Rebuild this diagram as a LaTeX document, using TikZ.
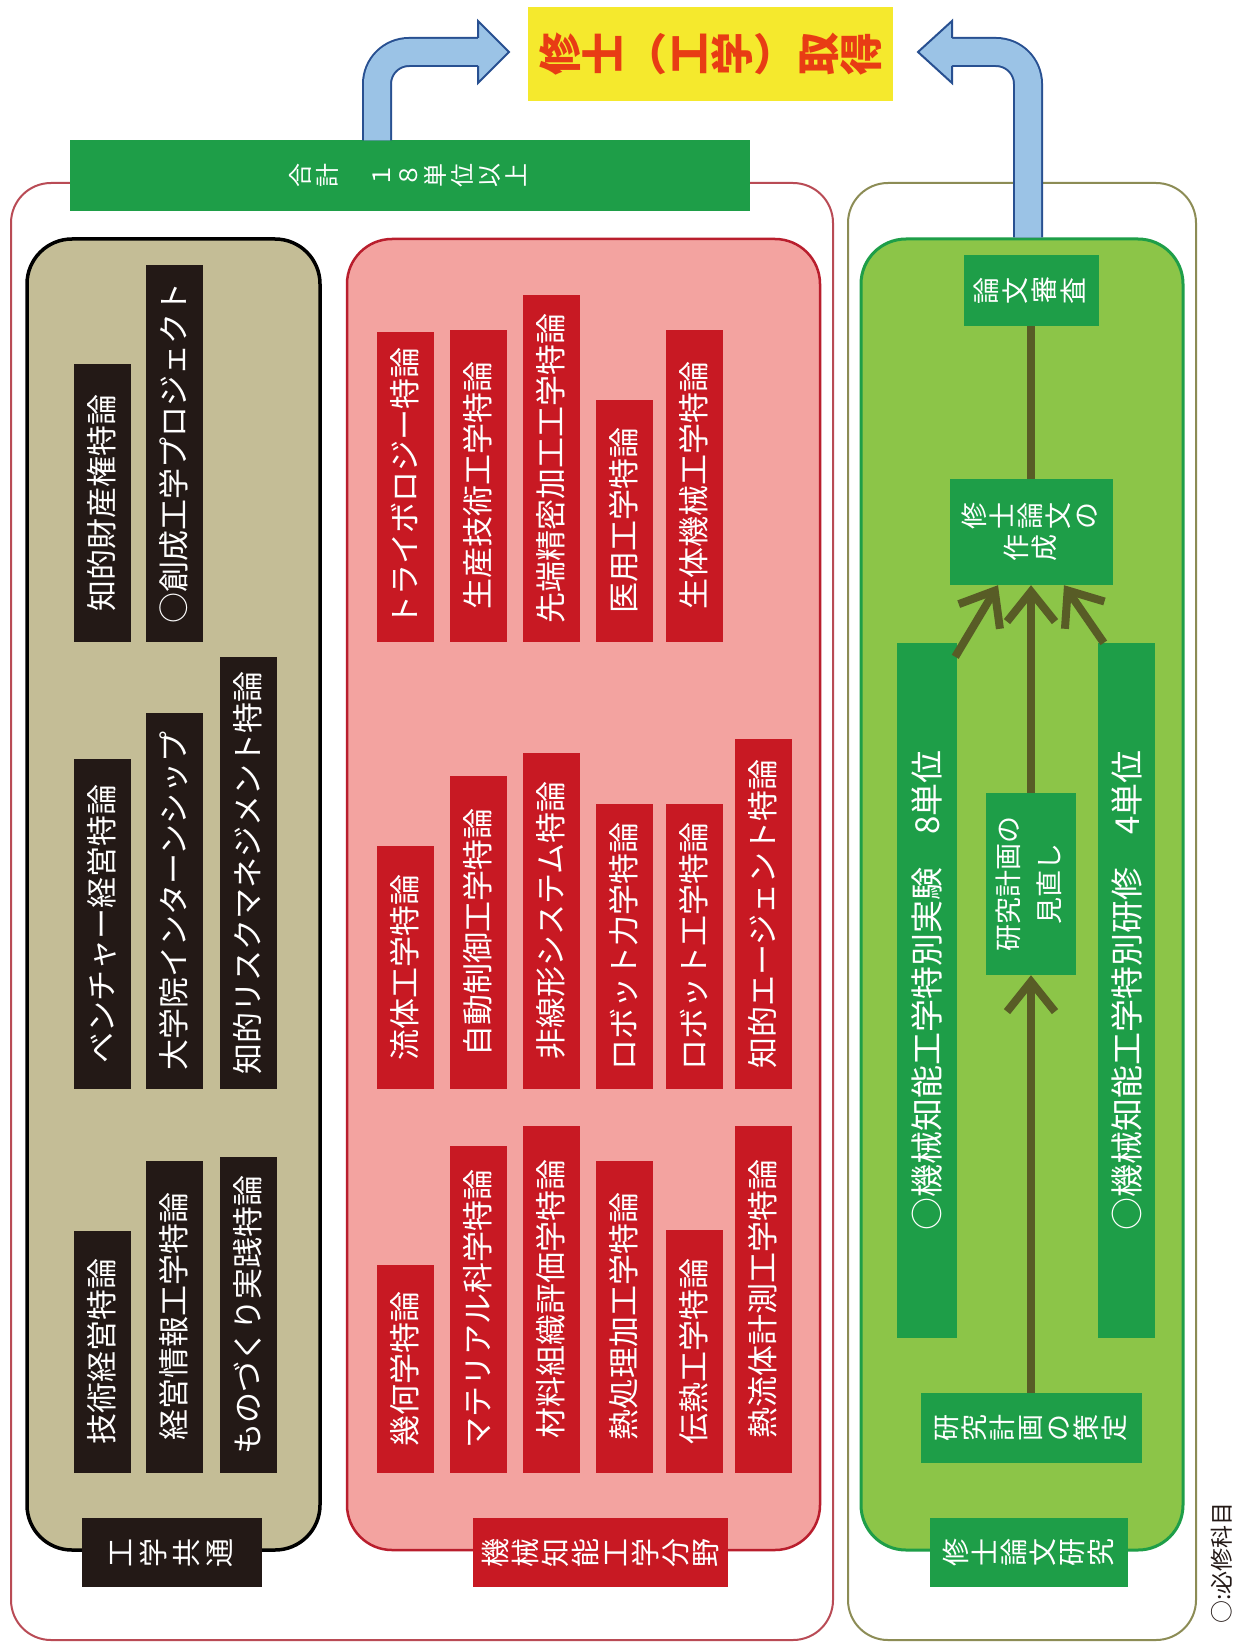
\documentclass[tikz,border=0pt]{standalone}
\usepackage{fontspec}
\usepackage{graphicx}
\setmainfont{Noto Sans CJK JP}
\usetikzlibrary{arrows.meta,calc}
\definecolor{kblack}{RGB}{35,25,22}
\definecolor{kred}{RGB}{200,25,35}
\definecolor{kpink}{RGB}{243,163,160}
\definecolor{kpinkfr}{RGB}{185,30,45}
\definecolor{ktan}{RGB}{196,189,150}
\definecolor{kgreen}{RGB}{30,158,72}
\definecolor{klgreen}{RGB}{140,197,72}
\definecolor{kolive}{RGB}{88,92,38}
\definecolor{kframe}{RGB}{185,75,85}
\definecolor{kolivefr}{RGB}{140,140,85}
\definecolor{kyellow}{RGB}{245,233,45}
\definecolor{ktitle}{RGB}{232,60,20}
\definecolor{blight}{RGB}{155,195,230}
\definecolor{bdark}{RGB}{40,80,145}
\makeatletter
\newcommand\rc[1]{\raisebox{-0.12em}{\rotatebox{90}{\raisebox{0pt}[0.88em][0.12em]{#1}}}}
\newcommand\vt[2][0pt]{\@tfor\vt@c:=#2\do{\rc{\vt@c}\kern#1}}
\makeatother
\newcommand\fsz[1]{\fontsize{#1}{#1}\selectfont}
\newcommand\rt[1]{\rotatebox{90}{#1}}
\tikzset{
  cbox/.style={anchor=south, minimum width=57, inner sep=0pt, text=white, font=\fsz{31}},
  kb/.style={cbox, fill=kblack},
  rb/.style={cbox, fill=kred},
  gbox/.style={fill=kgreen, text=white, inner sep=0pt},
  grp/.style={rounded corners=45, inner sep=0pt, minimum height=1311},
  olink/.style={draw=kolive, line width=8},
  oarrow/.style={olink, -{Straight Barb[length=30pt, width=48pt]}},
  bshaft/.style={draw=bdark, line width=2, double=blight, double distance=26, rounded corners=32},
  bhead/.style={fill=blight},
  bheadline/.style={draw=bdark, line width=2}
}
\begin{document}
\begin{tikzpicture}[x=1pt,y=-1pt]
\useasboundingbox[fill=white] (0,0) rectangle (1254,1645);

% outer frames
\node[draw=kframe, line width=2, rounded corners=40, fill=white, minimum width=822, minimum height=1457, inner sep=0pt] (outerL) at (422,911.5) {};
\node[draw=kolivefr, line width=2, rounded corners=40, fill=white, minimum width=348, minimum height=1457, inner sep=0pt] (outerR) at (1022,911.5) {};

% total bar and title
\node[gbox, minimum width=680, minimum height=71, font=\fsz{24}] (sum) at (410,176) {\vt[3pt]{合計　１８単位以上}};
\node[fill=kyellow, minimum width=365, minimum height=94, inner sep=0pt, text=ktitle, font=\fsz{43}\bfseries] (tt) at (710.5,54) {\vt{修士}（\vt{工学}）\vt{取得}};

% group boxes
\node[grp, fill=ktan, draw=black, line width=3.5, minimum width=293] (common) at (173.5,894.5) {};
\node[grp, fill=kpink, draw=kpinkfr, line width=2.5, minimum width=473] (mech) at (583.5,894.5) {};
\node[grp, fill=klgreen, draw=kgreen, line width=3, minimum width=322] (thesis) at (1022,894.5) {};

% group labels
\node[fill=kblack, text=white, minimum width=180, minimum height=69, inner sep=0pt, font=\fsz{29}] (lcommon) at (172,1552.5) {\vt[4pt]{工学共通}};
\node[fill=kred, text=white, minimum width=255, minimum height=69, inner sep=0pt, font=\fsz{29}] (lmech) at (600.5,1552.5) {\vt[1pt]{機械知能工学分野}};
\node[gbox, minimum width=198, minimum height=69, font=\fsz{28}] (lthesis) at (1029,1552.5) {\vt[1pt]{修士論文研究}};

% engineering common courses
\node[kb, minimum height=242] (c11) at (102,1473) {\rt{技術経営特論}};
\node[kb, minimum height=312] (c12) at (174,1473) {\rt{経営情報工学特論}};
\node[kb, minimum height=316] (c13) at (248,1473) {\rt{ものづくり実践特論}};
\node[kb, minimum height=330] (c21) at (102,1089) {\rt{ベンチャー経営特論}};
\node[kb, minimum height=376] (c22) at (174,1089) {\rt{大学院インターンシップ}};
\node[kb, minimum height=432] (c23) at (248,1089) {\rt{知的リスクマネジメント特論}};
\node[kb, minimum height=278] (c31) at (102,642) {\rt{知的財産権特論}};
\node[kb, minimum height=377] (c32) at (174,642) {\rt{○創成工学プロジェクト}};

% mechanical courses
\node[rb, minimum height=208] (m11) at (405,1473) {\rt{幾何学特論}};
\node[rb, minimum height=327] (m12) at (478,1473) {\rt{マテリアル科学特論}};
\node[rb, minimum height=347] (m13) at (551,1473) {\rt{材料組織評価学特論}};
\node[rb, minimum height=312] (m14) at (624,1473) {\rt{熱処理加工学特論}};
\node[rb, minimum height=243] (m15) at (694,1473) {\rt{伝熱工学特論}};
\node[rb, minimum height=347] (m16) at (763,1473) {\rt{熱流体計測工学特論}};
\node[rb, minimum height=243] (m21) at (405,1089) {\rt{流体工学特論}};
\node[rb, minimum height=313] (m22) at (478,1089) {\rt{自動制御工学特論}};
\node[rb, minimum height=336] (m23) at (551,1089) {\rt{非線形システム特論}};
\node[rb, minimum height=285] (m24) at (624,1089) {\rt{ロボット力学特論}};
\node[rb, minimum height=285] (m25) at (694,1089) {\rt{ロボット工学特論}};
\node[rb, minimum height=350] (m26) at (763,1089) {\rt{知的エージェント特論}};
\node[rb, minimum height=310] (m31) at (405,642) {\rt{トライボロジー特論}};
\node[rb, minimum height=312] (m32) at (478,642) {\rt{生産技術工学特論}};
\node[rb, minimum height=347] (m33) at (551,642) {\rt{先端精密加工工学特論}};
\node[rb, minimum height=242] (m34) at (624,642) {\rt{医用工学特論}};
\node[rb, minimum height=312] (m35) at (694,642) {\rt{生体機械工学特論}};

% thesis research flow
\node[gbox, minimum width=135, minimum height=71, font=\fsz{27}] (shinsa) at (1031,290.5) {\vt[2pt]{論文審査}};
\node[gbox, minimum width=163, minimum height=106, font=\fontsize{27}{32}\selectfont, align=center] (sakusei) at (1031,532) {\vt[1pt]{修士論文の}\\\vt[1pt]{作成}};
\node[gbox, minimum width=60, minimum height=695, font=\fsz{33}] (jikken) at (927,990.5) {\rt{○機械知能工学特別実験　8単位}};
\node[gbox, minimum width=57, minimum height=695, font=\fsz{33}] (kenshu) at (1126.5,990.5) {\rt{○機械知能工学特別研修　4単位}};
\node[gbox, minimum width=90, minimum height=182] (minaoshi) at (1031,884) {\rt{\fontsize{27}{41}\selectfont\begin{tabular}{@{}c@{}}研究計画の\\見直し\end{tabular}}};
\node[gbox, minimum width=221, minimum height=70, font=\fsz{27}] (sakutei) at (1031,1428) {\vt[1pt]{研究計画の策定}};

\draw[olink] (shinsa.south) -- (sakusei.north);
\draw[oarrow] (sakutei.north) -- (minaoshi.south);
\draw[oarrow] (minaoshi.north) -- (sakusei.south);
\draw[oarrow] ($(jikken.north east)+(-2,14)$) -- ($(sakusei.south)+(-33,0)$);
\draw[oarrow] ($(kenshu.north west)+(6,0)$) -- ($(sakusei.south)+(33,0)$);

% note
\node[inner sep=0pt, text=kblack, font=\fsz{23}] (note) at (1222,1563) {\rt{○:必修科目}};

% blue arrows to the degree
\coordinate (lturn) at (377,52);
\coordinate (lhead) at (481,52);
\draw[bshaft] (lturn |- sum.north) |- (lhead);
\fill[bhead] (478,37) -- (478,21) -- (509,52) -- (478,83) -- (478,67) -- cycle;
\draw[bheadline] (478,38) -- (478,21) -- (509,52) -- (478,83) -- (478,66);

\coordinate (rturn) at (1028,52);
\coordinate (rhead) at (949,52);
\draw[bshaft] (rturn |- thesis.north) |- (rhead);
\fill[bhead] (952,37) -- (952,21) -- (918,52) -- (952,83) -- (952,67) -- cycle;
\draw[bheadline] (952,38) -- (952,21) -- (918,52) -- (952,83) -- (952,66);
\end{tikzpicture}
\end{document}
